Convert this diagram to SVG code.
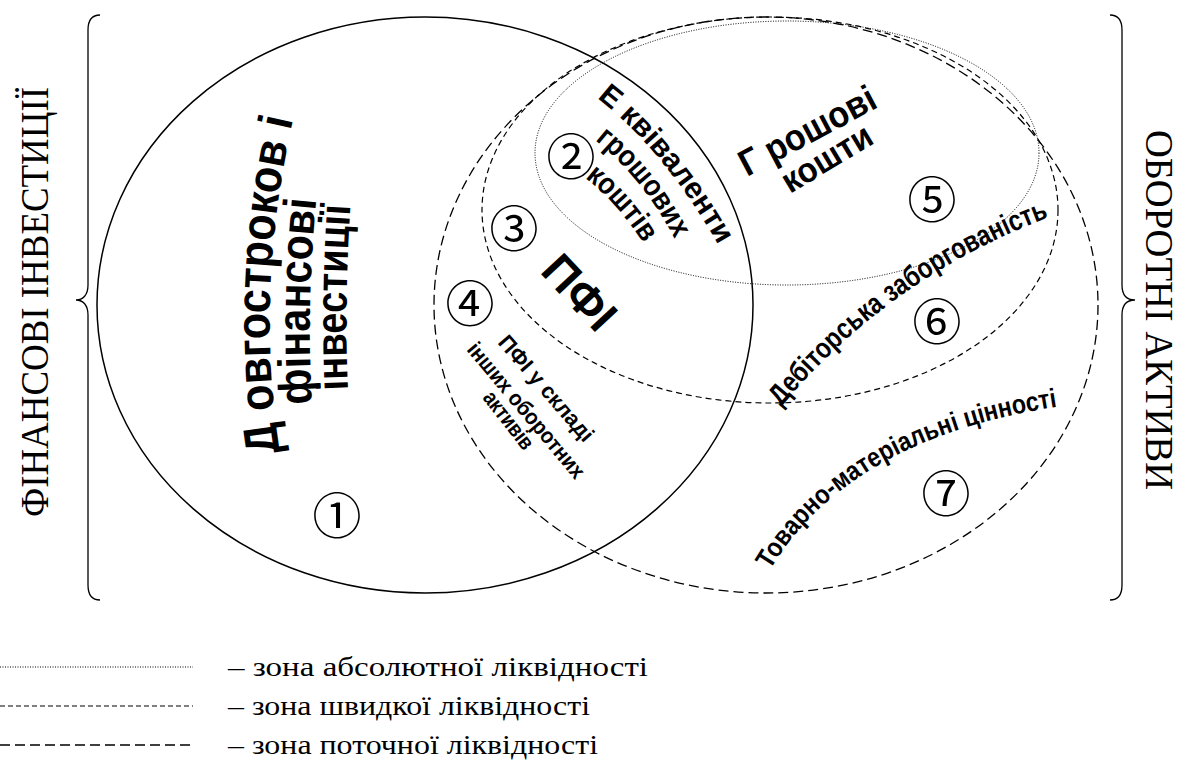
<svg xmlns="http://www.w3.org/2000/svg" width="1186" height="777" viewBox="0 0 1186 777">
<style>
.ser{font-family:"Liberation Serif","Times New Roman",serif;fill:#000}
.b{font-family:"Liberation Sans",Arial,sans-serif;font-weight:bold;fill:#000}
.num{font-family:"Noto Sans CJK JP","DejaVu Sans",sans-serif;font-size:49px;text-anchor:middle;dominant-baseline:central;fill:#000}
.ln{fill:none;stroke:#000}
.solid{stroke-width:1.5}
.long{stroke-width:1.3;stroke-dasharray:10 5}
.med{stroke-width:1.2;stroke-dasharray:6 4}
.dot{stroke-width:1;stroke-dasharray:1 1.5}
</style>
<defs>
<path id="p-dovg" d="M 280,452 Q 254,290 294,116"/>
<path id="p-fin" d="M 312,404 Q 306,300 317,192"/>
<path id="p-inv" d="M 348,390 Q 344,300 351,198"/>
<path id="p-ekv" d="M 597,98 Q 666,152 720,248"/>
<path id="p-gros" d="M 595,140 Q 645,180 676,242"/>
<path id="p-kosht" d="M 585,178 Q 620,205 649,252"/>
<path id="p-deb" d="M 781,407 Q 892,274 1058,214"/>
<path id="p-tov" d="M 770,570 C 815,495 900,430 1062,406"/>
</defs>
<rect width="1186" height="777" fill="#fff"/>

<g id="brace-left">
<path class="ln" stroke-width="1.3" d="M 100,15 C 92,15 88,20 88,30 L 88,285 C 88,295 83,300 76,300 C 83,300 88,305 88,315 L 88,585 C 88,595 92,600 100,600"/>
<text class="ser" font-size="40" transform="translate(48,302) rotate(-90)" text-anchor="middle" textLength="430" lengthAdjust="spacingAndGlyphs">ФІНАНСОВІ ІНВЕСТИЦІЇ</text>
</g>
<g id="brace-right">
<path class="ln" stroke-width="1.3" d="M 1110,15 C 1118,15 1122,20 1122,30 L 1122,285 C 1122,295 1127,300 1135,300 C 1127,300 1122,305 1122,315 L 1122,585 C 1122,595 1118,600 1110,600"/>
<text class="ser" font-size="40" transform="translate(1146,310) rotate(90)" text-anchor="middle" textLength="360" lengthAdjust="spacingAndGlyphs">ОБОРОТНІ АКТИВИ</text>
</g>

<g id="zone-financial-investments">
<ellipse class="ln solid" cx="425" cy="305" rx="328" ry="288"/>
</g>
<g id="zone-current">
<ellipse class="ln long" cx="766" cy="305" rx="332" ry="288"/>
</g>
<g id="zone-quick">
<ellipse class="ln med" cx="770" cy="210" rx="288" ry="193"/>
</g>
<g id="zone-absolute">
<ellipse class="ln dot" cx="787" cy="153" rx="252" ry="132"/>
</g>

<g id="region-1">
<text class="b" font-size="48"><textPath href="#p-dovg" textLength="335" lengthAdjust="spacingAndGlyphs">Д овгостроков і</textPath></text>
<text class="b" font-size="46"><textPath href="#p-fin" textLength="205" lengthAdjust="spacingAndGlyphs">фінансові</textPath></text>
<text class="b" font-size="44"><textPath href="#p-inv" textLength="185" lengthAdjust="spacingAndGlyphs">інвестиції</textPath></text>
<text class="num" x="337" y="512">①</text>
</g>
<g id="region-2">
<text class="b" font-size="30"><textPath href="#p-ekv" textLength="192" lengthAdjust="spacingAndGlyphs">Е квіваленти</textPath></text>
<text class="b" font-size="30"><textPath href="#p-gros" textLength="128" lengthAdjust="spacingAndGlyphs">грошових</textPath></text>
<text class="b" font-size="30"><textPath href="#p-kosht" textLength="88" lengthAdjust="spacingAndGlyphs">коштів</textPath></text>
<text class="num" x="571" y="153">②</text>
</g>
<g id="region-3">
<text class="b" font-size="46" transform="translate(539,272) rotate(47)">ПФІ</text>
<text class="num" x="514" y="225">③</text>
</g>
<g id="region-4">
<text class="b" font-size="22" transform="translate(497,343) rotate(49)" textLength="133" lengthAdjust="spacingAndGlyphs">ПФІ у складі</text>
<text class="b" font-size="22" transform="translate(466,350) rotate(50)" textLength="170" lengthAdjust="spacingAndGlyphs">інших оборотних</text>
<text class="b" font-size="22" transform="translate(482,398) rotate(52)" textLength="68" lengthAdjust="spacingAndGlyphs">активів</text>
<text class="num" x="470" y="300">④</text>
</g>
<g id="region-5">
<text class="b" font-size="37" transform="translate(747,177) rotate(-28)" textLength="150" lengthAdjust="spacingAndGlyphs">Г рошові</text>
<text class="b" font-size="35" transform="translate(790,194) rotate(-31)" textLength="100" lengthAdjust="spacingAndGlyphs">кошти</text>
<text class="num" x="932" y="196">⑤</text>
</g>
<g id="region-6">
<text class="b" font-size="29"><textPath href="#p-deb" textLength="332" lengthAdjust="spacingAndGlyphs">Дебіторська заборгованість</textPath></text>
<text class="num" x="937" y="318">⑥</text>
</g>
<g id="region-7">
<text class="b" font-size="27"><textPath href="#p-tov" textLength="342" lengthAdjust="spacingAndGlyphs">Товарно-матеріальні цінності</textPath></text>
<text class="num" x="946" y="490">⑦</text>
</g>

<g id="legend">
<line class="ln dot" x1="0" y1="667" x2="193" y2="667"/>
<line class="ln" stroke-width="1.2" stroke-dasharray="5 3" x1="0" y1="706" x2="193" y2="706"/>
<line class="ln" stroke-width="1.3" stroke-dasharray="10 5" x1="0" y1="745" x2="193" y2="745"/>
<text class="ser" font-size="28" x="228" y="676" textLength="420" lengthAdjust="spacingAndGlyphs">– зона абсолютної ліквідності</text>
<text class="ser" font-size="28" x="228" y="715" textLength="362" lengthAdjust="spacingAndGlyphs">– зона швидкої ліквідності</text>
<text class="ser" font-size="28" x="228" y="754" textLength="370" lengthAdjust="spacingAndGlyphs">– зона поточної ліквідності</text>
</g>
</svg>
